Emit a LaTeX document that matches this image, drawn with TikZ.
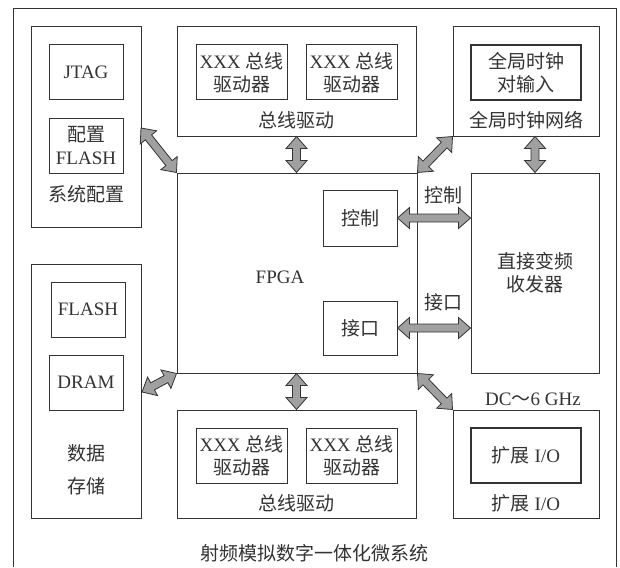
\documentclass[tikz,border=0pt]{standalone}
\usepackage{fontspec}
\setmainfont{Liberation Serif}
\newfontfamily\cjk{Noto Sans CJK SC}
\usetikzlibrary{calc}
\definecolor{ink}{HTML}{333333}
\definecolor{arrfill}{HTML}{A0A0A0}
\newcommand{\zh}[1]{{\cjk #1}}
\tikzset{
  box/.style={draw=ink, line width=1pt, inner sep=0pt},
  tbox/.style={draw=ink, line width=1.8pt, inner sep=0pt},
  lbl/.style={text=ink, font=\fontsize{19}{23}\selectfont, align=center, inner sep=0pt},
  arrowbody/.style={fill=arrfill, draw=ink, line width=0.8pt, line join=miter},
}
% double block arrow between two named coordinates
\newcommand{\dblarr}[2]{%
  \coordinate (ha) at ($(#1)!12pt!(#2)$);
  \coordinate (hb) at ($(#2)!12pt!(#1)$);
  \filldraw[arrowbody] (#1) -- ($(ha)!10.5pt!90:(#2)$) -- ($(ha)!4pt!90:(#2)$)
    -- ($(hb)!4pt!-90:(#1)$) -- ($(hb)!10.5pt!-90:(#1)$) -- (#2)
    -- ($(hb)!10.5pt!90:(#1)$) -- ($(hb)!4pt!90:(#1)$)
    -- ($(ha)!4pt!-90:(#2)$) -- ($(ha)!10.5pt!-90:(#2)$) -- cycle;}
\begin{document}
\begin{tikzpicture}[x=1pt, y=-1pt]
\useasboundingbox (0,0) rectangle (620,567);
\fill[white] (0,0) rectangle (620,567);
% outer frame
\draw[ink, line width=1pt] (13,567) -- (13,9) -- (616,9) -- (616,567);

% system configuration
\node[box, minimum width=110pt, minimum height=200pt] (sys) at (86,127) {};
\node[box, minimum width=74pt, minimum height=55pt, lbl] (jtag) at (86,72.5) {JTAG};
\node[box, minimum width=74pt, minimum height=55pt, lbl] (cfg) at (86,145.5) {\zh{配置}\\FLASH};
\node[lbl] (syslbl) at (86,194) {\zh{系统配置}};

% data storage
\node[box, minimum width=110pt, minimum height=254pt] (data) at (86,391) {};
\node[box, minimum width=74pt, minimum height=55pt, lbl] (flash) at (88,309.5) {FLASH};
\node[box, minimum width=74pt, minimum height=55pt, lbl] (dram) at (86,382.5) {DRAM};
\node[lbl] (datalbl) at (86,470) {\zh{数据}\\[10pt]\zh{存储}};

% top bus drivers
\node[box, minimum width=239pt, minimum height=109pt] (topbus) at (296.5,81.5) {};
\node[box, minimum width=91pt, minimum height=55pt, lbl] (tb1) at (241.5,72.5) {XXX \zh{总线}\\\zh{驱动器}};
\node[box, minimum width=91pt, minimum height=55pt, lbl] (tb2) at (351.5,72.5) {XXX \zh{总线}\\\zh{驱动器}};
\node[lbl] (toplbl) at (296.5,120) {\zh{总线驱动}};

% global clock
\node[box, minimum width=146pt, minimum height=109pt] (clk) at (526,81.5) {};
\node[tbox, minimum width=110pt, minimum height=55pt, lbl] (clkin) at (526,72.5) {\zh{全局时钟}\\\zh{对输入}};
\node[lbl] (clklbl) at (526,120) {\zh{全局时钟网络}};

% FPGA
\node[box, minimum width=240pt, minimum height=200pt] (fpga) at (297,273) {};
\node[lbl] (fpgalbl) at (280,277) {FPGA};
\node[box, minimum width=74pt, minimum height=56pt, lbl] (ctrl) at (360,218) {\zh{控制}};
\node[box, minimum width=74pt, minimum height=54pt, lbl] (intf) at (360,328) {\zh{接口}};

% transceiver
\node[box, minimum width=128pt, minimum height=200pt, lbl] (trx) at (535,273) {\zh{直接变频}\\\zh{收发器}};

% bottom bus drivers
\node[box, minimum width=239pt, minimum height=108pt] (botbus) at (296.5,464) {};
\node[box, minimum width=91pt, minimum height=55pt, lbl] (bb1) at (241.5,455.5) {XXX \zh{总线}\\\zh{驱动器}};
\node[box, minimum width=91pt, minimum height=55pt, lbl] (bb2) at (351.5,455.5) {XXX \zh{总线}\\\zh{驱动器}};
\node[lbl] (botlbl) at (296.5,503) {\zh{总线驱动}};

% expansion I/O
\node[box, minimum width=146pt, minimum height=108pt] (exp) at (526,464) {};
\node[tbox, minimum width=110pt, minimum height=55pt, lbl] (expin) at (526,455.5) {\zh{扩展} I/O};
\node[lbl] (explbl) at (526,503) {\zh{扩展} I/O};
\node[lbl] (dclbl) at (533,399) {DC\zh{～}6 GHz};

% connector labels
\node[lbl] (ctrllbl) at (443,195) {\zh{控制}};
\node[lbl] (intflbl) at (443,302) {\zh{接口}};

% title
\node[lbl] (title) at (314,553) {\zh{射频模拟数字一体化微系统}};

% arrow endpoints
\coordinate (sysE) at (141,128);
\coordinate (dramE) at (142,392);
\coordinate (tbS) at (topbus.south);
\coordinate (tbF) at (topbus.south |- fpga.north);
\coordinate (bbN) at (botbus.north);
\coordinate (bbF) at (botbus.north |- fpga.south);
\coordinate (clkS) at (trx.north |- clk.south);
\coordinate (ctrlE) at (ctrl.east);
\coordinate (ctrlT) at (ctrl.east -| trx.west);
\coordinate (intfE) at (intf.east);
\coordinate (intfT) at (intf.east -| trx.west);

\dblarr{sysE}{fpga.north west}
\dblarr{dramE}{fpga.south west}
\dblarr{tbS}{tbF}
\dblarr{bbF}{bbN}
\dblarr{clk.south west}{fpga.north east}
\dblarr{clkS}{trx.north}
\dblarr{ctrlE}{ctrlT}
\dblarr{intfE}{intfT}
\dblarr{fpga.south east}{exp.north west}
\end{tikzpicture}
\end{document}
